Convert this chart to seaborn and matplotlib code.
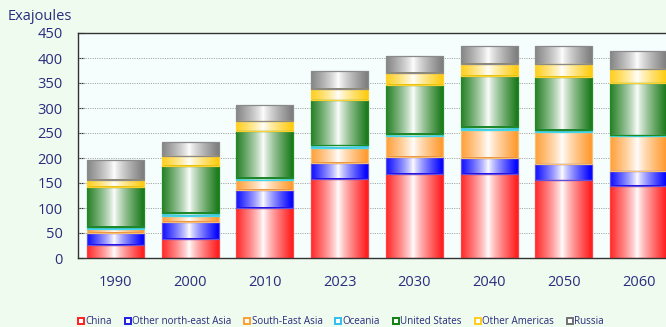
import numpy as np
import pandas as pd
import matplotlib
matplotlib.use("Agg")
import matplotlib.pyplot as plt
import seaborn as sns
from matplotlib.colors import to_rgb
from matplotlib.patches import Rectangle
from matplotlib.lines import Line2D
from matplotlib.ticker import MultipleLocator

years = ["1990", "2000", "2010", "2023", "2030", "2040", "2050", "2060"]
china = [27, 39, 101, 159, 169, 169, 156, 145]
ne_asia = [24, 34, 36, 32, 34, 32, 32, 29]
se_asia = [8, 12, 19, 30, 41, 56, 65, 71]
oceania = [4, 6, 5, 5, 5, 6, 4, 1]
us = [80, 94, 93, 90, 98, 102, 106, 104]
other_am = [14, 19, 20, 23, 24, 24, 25, 28]
russia = [40, 29, 32, 35, 34, 36, 37, 36]

series_names = ["China", "Other north-east Asia", "South-East Asia", "Oceania",
                "United States", "Other Americas", "Russia"]
series_vals = [china, ne_asia, se_asia, oceania, us, other_am, russia]
fill_colors = ["#ff1e1e", "#0000ff", "#ff9a2e", "#33c8ec", "#1b7a1b", "#ffcc10", "#7e7e7e"]
edge_colors = ["#ff4040", "#6050e0", "#f5c070", "#40d8f0", "#1f8a1f", "#ffd030", "#8a8a8a"]
legend_edges = ["#ff2020", "#2020e0", "#ffa030", "#30c0f0", "#108010", "#ffcc20", "#707070"]

sns.set_style("white")
plt.rcParams["font.family"] = ["Open Sans", "DejaVu Sans"]

fig = plt.figure(figsize=(6.66, 3.27), dpi=100, facecolor="#eefbee")
ax = fig.add_axes([78 / 666, 69 / 327, 598 / 666, 225 / 327])
ax.set_facecolor("#f5fefd")

df = pd.DataFrame({"year": years})
bottom = np.zeros(len(years))
containers = []
for name, vals, col in zip(series_names, series_vals, fill_colors):
    df[name] = vals
    sns.barplot(data=df, x="year", y=name, order=years, color=col, bottom=bottom,
                width=0.763, ax=ax, saturation=1, linewidth=0, zorder=2)
    containers.append(ax.containers[-1])
    bottom = bottom + np.array(vals, dtype=float)

# cylinder-like horizontal gradient
N = 200
u = np.linspace(0, 1, N)
mix = np.clip(np.abs(u - 0.47) / 0.5, 0, 1) ** 0.8
for cont, col, ecol in zip(containers, fill_colors, edge_colors):
    rgb = np.array(to_rgb(col))
    grad = (1 - mix)[:, None] * np.ones(3) + mix[:, None] * rgb
    img = grad[None, :, :]
    for p in cont.patches:
        x0, y0 = p.get_x(), p.get_y()
        w, h = p.get_width(), p.get_height()
        if h <= 0:
            continue
        im = ax.imshow(img, extent=[x0, x0 + w, y0, y0 + h], aspect="auto",
                       interpolation="bilinear", zorder=2.2)
        im.set_clip_path(p)
        ax.add_patch(Rectangle((x0, y0), w, h, fill=False, edgecolor=ecol,
                               linewidth=0.9, zorder=2.4))

ax.set_xlim(-0.5, 7.5)
ax.set_ylim(0, 450)
ax.set_aspect("auto")
ax.set_xlabel("")
ax.set_ylabel("")

navy = "#2b2c7e"
ax.yaxis.set_major_locator(MultipleLocator(50))
ax.set_xticks(range(len(years)))
ax.set_xticklabels(years)
ax.set_xticks(np.arange(0.5, 7.5, 1), minor=True)
ax.tick_params(axis="y", which="major", direction="in", length=4, width=0.8,
               color="#333333", labelsize=10.5, labelcolor=navy, pad=11)
ax.tick_params(axis="x", which="major", length=0, labelsize=10.5, labelcolor=navy, pad=12)
ax.tick_params(axis="x", which="minor", direction="in", length=4, width=0.8, color="#333333")
ax.tick_params(left=True, bottom=True)

for v in range(50, 450, 50):
    ax.axhline(v, color="#a8a8a8", linewidth=0.7, linestyle=(0, (1.2, 1.2)), zorder=1)

for s in ["left", "bottom", "top", "right"]:
    ax.spines[s].set_visible(True)
    ax.spines[s].set_color("#333333")
    ax.spines[s].set_linewidth(1.0)

fig.text(8 / 666, 1 - 20 / 327, "Exajoules", fontsize=10.5, color=navy,
         ha="left", va="baseline")

handles = [Line2D([0], [0], marker="s", linestyle="none", markersize=4.2,
                  markerfacecolor="white", markeredgecolor=ec, markeredgewidth=1.4)
           for ec in legend_edges]
fig.legend(handles, series_names, loc="center", bbox_to_anchor=(341 / 666, 5 / 327),
           ncol=7, frameon=False, fontsize=7.1, handlelength=0.6, handletextpad=0.15,
           columnspacing=1.3, labelcolor=navy, borderpad=0)

fig.savefig("out.png", dpi=100, facecolor=fig.get_facecolor())
